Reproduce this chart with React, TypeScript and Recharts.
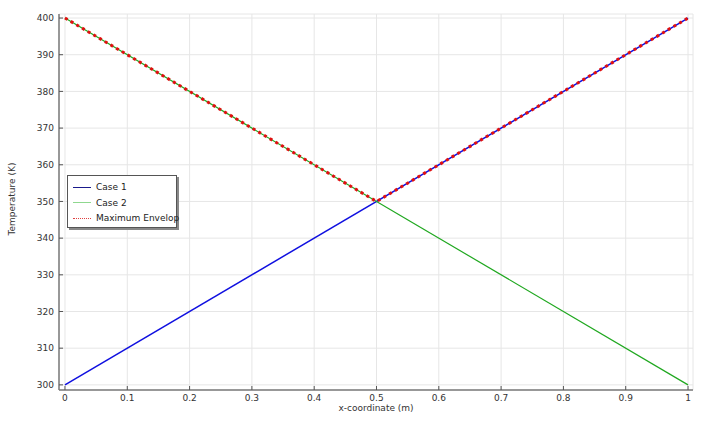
import React from 'react';
import { LineChart, Line, XAxis, YAxis, CartesianGrid } from 'recharts';

const case1X = [0, 1];
const case1Y = [300, 400];
const case2X = [0, 1];
const case2Y = [400, 300];
const envX = [0, 0.5, 1];
const envY = [400, 350, 400];
const xTicks = [0, 0.1, 0.2, 0.3, 0.4, 0.5, 0.6, 0.7, 0.8, 0.9, 1];
const yTicks = [300, 310, 320, 330, 340, 350, 360, 370, 380, 390, 400];

const toPts = (xs: number[], ys: number[]) => xs.map((x, i) => ({ x, y: ys[i] }));
const case1 = toPts(case1X, case1Y);
const case2 = toPts(case2X, case2Y);
const env = toPts(envX, envY);

const FONT = '"DejaVu Sans", sans-serif';
const tickStyle = { fontSize: 9, fill: '#333', fontFamily: FONT };
const frame = { stroke: '#7a7a7a', strokeWidth: 1.5 };
const XD: [number, number] = [-0.0096, 1.008];
const YD: [number, number] = [298.6, 401.1];

export default function App() {
  return (
    <div style={{ position: 'absolute', left: 0, top: 0, width: 720, height: 423, background: '#fff', fontFamily: FONT }}>
      <LineChart width={720} height={423} margin={{ top: 14, right: 27, left: 0, bottom: 0 }}>
        <CartesianGrid stroke="#e6e6e6" />
        <XAxis xAxisId={0} dataKey="x" type="number" domain={XD} ticks={xTicks} allowDataOverflow
          height={33} tickSize={-4} tickMargin={9} tick={tickStyle} axisLine={frame} tickLine={{ stroke: '#555' }}
          tickFormatter={(v: number) => String(v)} />
        <XAxis xAxisId="top" orientation="top" dataKey="x" type="number" domain={XD} ticks={xTicks} allowDataOverflow
          height={0} tickSize={-4} tick={false} axisLine={frame} tickLine={{ stroke: '#555' }} />
        <YAxis yAxisId={0} dataKey="y" type="number" domain={YD} ticks={yTicks} allowDataOverflow
          width={59} tickSize={-4} tickMargin={9} tick={tickStyle} axisLine={frame} tickLine={{ stroke: '#555' }} />
        <YAxis yAxisId="r" orientation="right" dataKey="y" type="number" domain={YD} ticks={yTicks} allowDataOverflow
          width={0} tickSize={-4} tick={false} axisLine={frame} tickLine={{ stroke: '#555' }} />
        <Line data={case1} dataKey="y" stroke="#1010e0" strokeWidth={1.5} dot={false} isAnimationActive={false} />
        <Line data={case2} dataKey="y" stroke="#20a820" strokeWidth={1.2} dot={false} isAnimationActive={false} />
        <Line data={env} dataKey="y" stroke="#e01010" strokeWidth={3} strokeDasharray="3 3.6" dot={false} isAnimationActive={false} />
      </LineChart>
      <div style={{ position: 'absolute', left: 0, top: 403, width: 752, textAlign: 'center', fontSize: 9, lineHeight: '11px', color: '#333' }}>x-coordinate (m)</div>
      <div style={{ position: 'absolute', left: 12 - 60, top: 200 - 6, width: 120, textAlign: 'center', fontSize: 9, color: '#333', transform: 'rotate(-90deg)' }}>Temperature (K)</div>
      <div style={{ position: 'absolute', left: 67, top: 175, width: 108, height: 51, border: '1px solid #555', background: '#fff', boxShadow: '2px 2px 0 #888' }}>
        {[
          { label: 'Case 1', color: '#1a1a8c', dash: 'none' },
          { label: 'Case 2', color: '#8fd88f', dash: 'none' },
          { label: 'Maximum Envelop', color: '#e04040', dash: 'dotted' },
        ].map((it, i) => (
          <div key={i} style={{ position: 'absolute', left: 5, top: 5 + i * 15.5, height: 12, display: 'flex', alignItems: 'center' }}>
            <div style={{ width: 18, height: 0, borderTop: `1px ${it.dash === 'none' ? 'solid' : 'dotted'} ${it.color}` }} />
            <span style={{ marginLeft: 5, fontSize: 9, color: '#222', whiteSpace: 'nowrap' }}>{it.label}</span>
          </div>
        ))}
      </div>
    </div>
  );
}
